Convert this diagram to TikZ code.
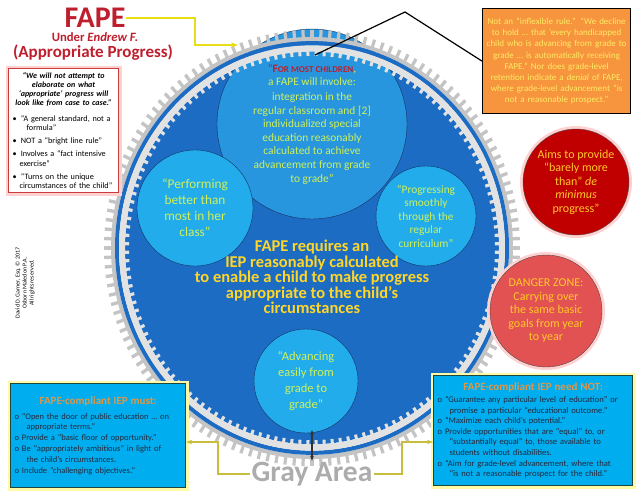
\documentclass[tikz,border=0pt]{standalone}
\usepackage{fontspec}
\setmainfont{Carlito}
\usetikzlibrary{arrows.meta}

\definecolor{discblue}{RGB}{28,108,196}
\definecolor{topblue}{RGB}{40,150,222}
\definecolor{bubblue}{RGB}{34,172,236}
\definecolor{boxblue}{RGB}{0,174,239}
\definecolor{bubtext}{RGB}{206,240,90}
\definecolor{coregold}{RGB}{255,214,40}
\definecolor{fapered}{RGB}{190,30,45}
\definecolor{gearcol}{RGB}{196,196,196}
\definecolor{gearband}{RGB}{226,226,226}
\definecolor{holdorange}{RGB}{247,148,62}
\definecolor{holdtext}{RGB}{255,236,100}
\definecolor{deepred}{RGB}{192,0,0}
\definecolor{dangerred}{RGB}{226,82,82}
\definecolor{ambertext}{RGB}{255,200,40}
\definecolor{titletan}{RGB}{226,150,70}
\definecolor{linkyellow}{RGB}{200,190,60}
\definecolor{inkblue}{RGB}{20,50,100}
\definecolor{boxink}{RGB}{40,40,60}

\tikzset{
	bubble/.style={circle, draw=inkblue, fill=bubblue, text=bubtext, align=center, inner sep=0pt},
	redglow/.style={preaction={draw=red!18, line width=6pt}},
	yellowglow/.style={preaction={draw=yellow!35, line width=6pt}},
	iepbox/.style={rectangle, draw={rgb,255:red,30;green,70;blue,60}, line width=1.2pt, fill=boxblue, yellowglow, text=boxink, align=left, anchor=north west, inner sep=4pt},
	link/.style={linkyellow, line width=1.2pt}
}

\begin{document}
\begin{tikzpicture}[x=1pt, y=-1pt]
	\useasboundingbox (0,0) rectangle (640,495);

	% the wheel
	\begin{scope}[shift={(312,248)}, yscale=1.05]
		\fill[discblue] (0,0) circle (187pt);
	\end{scope}
	\node[bubble, fill=topblue, minimum size=190pt, font=\fontsize{11.4}{13.6}\selectfont] (most) at (312,124) {%
		\textcolor{fapered}{“\bfseries F{\fontsize{9}{9}\selectfont OR MOST CHILDREN}},\\
		a FAPE will involve:\\
		[1] integration in the\\
		regular classroom and [2]\\
		individualized special\\
		education reasonably\\
		calculated to achieve\\
		advancement from grade\\
		to grade”};
	\begin{scope}[shift={(312,248)}, yscale=1.05]
		\fill[gearcol, even odd rule] (0,0) circle (201pt) circle (197pt);
		\foreach \a in {0,2.5,...,357.5}
			\fill[gearcol, rotate=\a] (200pt,-1.6pt) rectangle (208pt,1.6pt);
		\fill[discblue, even odd rule] (0,0) circle (197pt) circle (193pt);
		\fill[gearband, even odd rule] (0,0) circle (193pt) circle (187pt);
		\foreach \a in {1.25,3.75,...,358.75}
			\fill[gearband, rotate=\a] (183pt,-1.5pt) rectangle (188pt,1.5pt);
	\end{scope}

	\node[bubble, minimum size=116pt, font=\fontsize{13.3}{16}\selectfont] (better) at (195,208) {“Performing\\ better than\\ most in her\\ class”};
	\node[bubble, minimum size=100pt, font=\fontsize{11.4}{13.5}\selectfont] (smooth) at (426,216) {“Progressing\\ smoothly\\ through the\\ regular\\ curriculum”};
	\node[bubble, minimum size=104pt, font=\fontsize{12.5}{16}\selectfont] (easily) at (306,381) {“Advancing\\ easily from\\ grade to\\ grade”};
	\node[text=coregold, align=center, font=\fontsize{16.5}{15.5}\selectfont\bfseries] (core) at (312,277) {FAPE requires an\\ IEP reasonably calculated\\ to enable a child to make progress\\ appropriate to the child’s\\ circumstances};

	% title
	\node[text=fapered, inner sep=0pt, font=\fontsize{30}{30}\selectfont\bfseries] (fape) at (95,18) {FAPE};
	\node[text=fapered, inner sep=0pt, font=\fontsize{12.7}{12.7}\selectfont\bfseries] (endrew) at (95,37.5) {Under \textit{Endrew F.}};
	\node[text=fapered, inner sep=0pt, font=\fontsize{17}{17}\selectfont\bfseries] (approp) at (93,52.5) {(Appropriate Progress)};

	\node[rectangle, draw={rgb,255:red,200;green,60;blue,60}, line width=1.2pt, redglow, fill=white, anchor=north west, text width=102pt, minimum height=124pt, align=left, inner sep=4pt, font=\fontsize{8.2}{9.2}\selectfont] (casebox) at (8,68) {%
		{\centering\bfseries\itshape\fontsize{8}{8.8}\selectfont “We will not attempt to\\ elaborate on what\\ ‘appropriate’ progress will\\ look like from case to case.”\par}
		\vspace{7pt}
		\textbullet\enspace“A general standard, not a\\ \hspace*{14pt}formula”\\[4pt]
		\textbullet\enspace NOT a “bright line rule”\\[4pt]
		\textbullet\enspace Involves a “fact intensive\\ \hspace*{7pt}exercise”\\[4pt]
		\textbullet\enspace“Turns on the unique\\ \hspace*{7pt}circumstances of the child”};

	\node[rotate=90, align=center, font=\fontsize{6}{7}\selectfont] (credit) at (25,283) {David D. Garner, Esq. © 2017\\ Osborn Maledon P.A.\\ All rights reserved.};

	\node[rectangle, draw=black, line width=1.2pt, fill=holdorange, text=holdtext, anchor=north west, text width=142pt, minimum height=105pt, align=center, inner sep=3pt, font=\fontsize{9}{11.2}\selectfont] (holdbox) at (482,8) {%
		Not an “inflexible rule.”  “We decline\\ to hold … that ‘every handicapped\\ child who is advancing from grade to\\ grade … is automatically receiving\\ FAPE.”  Nor does grade-level\\ retention indicate a \textit{denial} of FAPE,\\ where grade-level advancement “is\\ not a reasonable prospect.”};

	\node[circle, draw=black!70, fill=deepred, redglow, text=ambertext, minimum size=106pt, align=center, inner sep=0pt, font=\fontsize{12}{13.5}\selectfont] (minimus) at (576,182) {Aims to provide\\ “barely more\\ than” \textit{de}\\ \textit{minimus}\\ progress”};
	\node[circle, draw=black!70, fill=dangerred, redglow, text=ambertext, minimum size=112pt, align=center, inner sep=0pt, font=\fontsize{12}{13.5}\selectfont] (danger) at (546,311) {DANGER ZONE:\\ Carrying over\\ the same basic\\ goals from year\\ to year};

	\node[iepbox, text width=167pt, minimum height=104pt, font=\fontsize{8.5}{10.8}\selectfont] (mustbox) at (10,383) {%
		\makebox[167pt]{\textcolor{titletan}{\fontsize{11}{12}\selectfont\bfseries FAPE-compliant IEP must:}}\\[4pt]
		o “Open the door of public education … on\\ \hspace*{12pt}appropriate terms.”\\
		o Provide a “basic floor of opportunity.”\\
		o Be “appropriately ambitious” in light of\\ \hspace*{12pt}the child’s circumstances.\\
		o Include “challenging objectives.”};
	\node[iepbox, text width=191pt, minimum height=110pt, font=\fontsize{8.6}{10.6}\selectfont] (notbox) at (433,375) {%
		\makebox[191pt]{\textcolor{titletan}{\fontsize{11}{12}\selectfont\bfseries FAPE-compliant IEP need NOT:}}\\[1pt]
		o “Guarantee any particular level of education” or\\ \hspace*{12pt}promise a particular “educational outcome.”\\
		o “Maximize each child’s potential.”\\
		o Provide opportunities that are “equal” to, or\\ \hspace*{12pt}“substantially equal” to, those available to\\ \hspace*{12pt}students without disabilities.\\
		o “Aim for grade-level advancement, where that\\ \hspace*{12pt}“is not a reasonable prospect for the child.”};

	\node[text=gray!65, inner sep=1pt, font=\fontsize{29.5}{29.5}\selectfont\bfseries] (grayarea) at (312,474) {Gray Area};

	% connectors
	\coordinate (yelbend) at (195,45);
	\coordinate (yeltip) at (238,45);
	\draw[yellow!90!black, line width=2pt, -{Stealth[length=7pt]}] (fape.east) -| (yelbend) -- (yeltip);
	\coordinate (callpeak) at (405,12);
	\coordinate (callend) at (315,55);
	\draw[black, line width=1.2pt] (holdbox.west) -- (callpeak) -- (callend);
	\coordinate (leftbend) at (218,442);
	\coordinate (rightbend) at (402,442);
	\draw[link, -{Stealth[length=6pt]}] (grayarea.west) -| (leftbend) -- (leftbend -| mustbox.east);
	\draw[link, -{Stealth[length=6pt]}] (grayarea.east) -| (rightbend) -- (rightbend -| notbox.west);
	\coordinate (rimpoint) at (312,430);
	\draw[gray!40!black, line width=1.6pt, {Stealth[length=5pt]}-{Stealth[length=5pt]}] (grayarea.north) -- (rimpoint);
\end{tikzpicture}
\end{document}
